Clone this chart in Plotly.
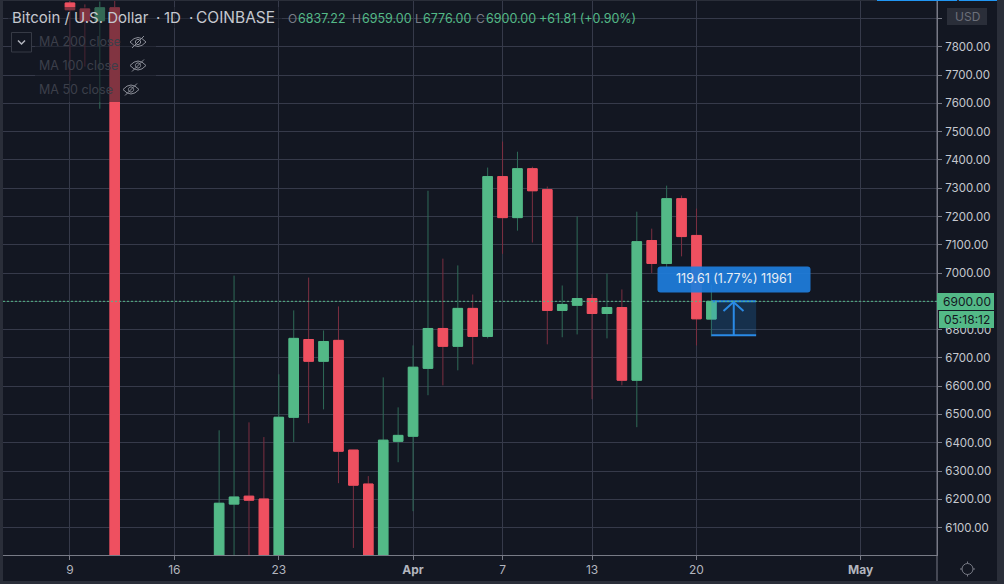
import plotly.graph_objects as go

# daily candles
dates = [
    "2020-03-09", "2020-03-10", "2020-03-11", "2020-03-12",
    "2020-03-19", "2020-03-20", "2020-03-21", "2020-03-22", "2020-03-23", "2020-03-24",
    "2020-03-25", "2020-03-26", "2020-03-27", "2020-03-28", "2020-03-29", "2020-03-30",
    "2020-03-31", "2020-04-01", "2020-04-02", "2020-04-03", "2020-04-04", "2020-04-05",
    "2020-04-06", "2020-04-07", "2020-04-08", "2020-04-09", "2020-04-10", "2020-04-11",
    "2020-04-12", "2020-04-13", "2020-04-14", "2020-04-15", "2020-04-16", "2020-04-17",
    "2020-04-18", "2020-04-19", "2020-04-20", "2020-04-21",
]
opens = [
    7955, 7934, 7892, 7938,
    5392, 6183, 6211, 6201, 5830, 6490,
    6765, 6688, 6762, 6374, 6254, 5880,
    6405, 6423, 6663, 6804, 6741, 6875,
    6776, 7341, 7196, 7369, 7295, 6868,
    6886, 6910, 6857, 6878, 6621, 7115,
    7034, 7263, 7133, 6837.22,
]
highs = [
    7975, 7950, 7960, 7975,
    6444, 6991, 6472, 6420, 6642, 6868,
    6984, 6797, 6882, 6374, 6282, 6631,
    6525, 6744, 7291, 7051, 7027, 6924,
    7373, 7465, 7429, 7376, 7306, 6956,
    7200, 6925, 6998, 6942, 7217, 7157,
    7309, 7274, 7228, 6959,
]
lows = [
    7680, 7730, 7581, 5000,
    5260, 5675, 5800, 5750, 5700, 6402,
    6469, 6518, 6257, 6028, 5860, 5860,
    6331, 6158, 6568, 6603, 6656, 6677,
    6769, 7068, 7150, 7108, 6748, 6773,
    6783, 6554, 6769, 6603, 6455, 7000,
    7018, 7059, 6744, 6776,
]
closes = [
    7931, 7892, 7938, 5000,
    6186, 6208, 6197, 5830, 6490, 6769,
    6688, 6758, 6370, 6250, 5880, 6409,
    6426, 6667, 6804, 6741, 6875, 6776,
    7341, 7196, 7369, 7291, 6868, 6889,
    6910, 6857, 6878, 6621, 7111, 7034,
    7263, 7129, 6838.19, 6900,
]

tick_dates = ["2020-03-09", "2020-03-16", "2020-03-23", "2020-04-01", "2020-04-07", "2020-04-13", "2020-04-20", "2020-05-01"]
tick_labels = ["9", "16", "23", "<b>Apr</b>", "7", "13", "20", "<b>May</b>"]
price_ticks = [6100, 6200, 6300, 6400, 6500, 6600, 6700, 6800, 6900, 7000, 7100, 7200, 7300, 7400, 7500, 7600, 7700, 7800, 7900]
# 6900 and 7900 sit under the price box and the USD box
price_labels = ["" if p in (6900, 7900) else "%.2f" % p for p in price_ticks]
ma_names = ["MA 200 close", "MA 100 close", "MA 50 close"]

last_price = 6900
measure_low = 6780.39

BG = "#131722"
FRAME = "#2a2e39"
GRID = "#363a4a"
UP = "#53b987"
DOWN = "#ef5060"
UP_WICK = "#2f6b58"
DOWN_WICK = "#7c2f40"
FONT = "Inter"

W, H = 1004, 584
LEFT, RIGHT, TOP, BOTTOM = 3, 937, 1, 555


def px(x):
    return (x - LEFT) / (RIGHT - LEFT)


def py(y):
    return 1 - (y - TOP) / (BOTTOM - TOP)


def box(x0, y0, x1, y1, color, line=None):
    return dict(type="rect", xref="paper", yref="paper", x0=px(x0), x1=px(x1), y0=py(y1), y1=py(y0),
                fillcolor=color, line=dict(width=1 if line else 0, color=line or color))


def icon(path, x, y, color, width=1):
    # path is in pixels around (x, y), y going up
    return dict(type="path", xref="paper", yref="paper", xsizemode="pixel", ysizemode="pixel",
                xanchor=px(x), yanchor=py(y), path=path, line=dict(color=color, width=width))


def label(text, x, y, color, size=12, anchor="left"):
    return dict(text=text, xref="paper", yref="paper", x=px(x), y=py(y), xanchor=anchor, yanchor="middle",
                showarrow=False, font=dict(family=FONT, size=size, color=color), borderpad=0, borderwidth=0)


def circle(r):
    k = r * 0.55
    return (f"M{-r},0 C{-r},{k} {-k},{r} 0,{r} C{k},{r} {r},{k} {r},0 "
            f"C{r},{-k} {k},{-r} 0,{-r} C{-k},{-r} {-r},{-k} {-r},0 Z")


fig = go.Figure()

# wicks, then the bodies on top so the bodies have no dark outline
fig.add_trace(go.Candlestick(
    x=dates, open=opens, high=highs, low=lows, close=closes, whiskerwidth=0,
    increasing=dict(line=dict(color=UP_WICK, width=1), fillcolor=UP),
    decreasing=dict(line=dict(color=DOWN_WICK, width=1), fillcolor=DOWN),
    showlegend=False, hoverinfo="skip",
))
fig.add_trace(go.Candlestick(
    x=dates, open=opens, close=closes,
    high=[max(o, c) for o, c in zip(opens, closes)],
    low=[min(o, c) for o, c in zip(opens, closes)],
    whiskerwidth=0,
    increasing=dict(line=dict(color=UP, width=1), fillcolor=UP),
    decreasing=dict(line=dict(color=DOWN, width=1), fillcolor=DOWN),
    showlegend=False, hoverinfo="skip",
))

eye = "M-8,0 Q0,9 8,0 Q0,-9 -8,0 Z " + circle(2.6) + " M-6,-6 L6,6"
sun = circle(5.5) + " M-7.5,0 L-5.5,0 M5.5,0 L7.5,0 M0,-7.5 L0,-5.5 M0,5.5 L0,7.5"

shapes = [
    # frame round the chart
    box(0, 0, 3, 584, FRAME),
    box(997, 0, 1004, 584, FRAME),
    box(0, 581, 1004, 584, FRAME),
    box(0, 0, 1004, 1, FRAME),
    box(877, 0, 957, 1, "#2196f3"),
    box(959, 0, 997, 1, "#2196f3"),
    dict(type="line", xref="paper", yref="paper", x0=1, x1=1, y0=py(581), y1=py(1), line=dict(color="#787b86", width=1)),
    # legend backings dim the candles under them
    box(8, 7, 282, 28, "rgba(19,23,34,0.5)"),
    box(35, 28, 156, 52, "rgba(19,23,34,0.5)"),
    box(35, 52, 156, 77, "rgba(19,23,34,0.5)"),
    box(35, 77, 148, 102, "rgba(19,23,34,0.5)"),
    # measure tool
    dict(type="rect", x0="2020-04-21", x1="2020-04-24", y0=measure_low, y1=last_price,
         fillcolor="rgba(33,150,243,0.2)", line=dict(width=0)),
    dict(type="line", x0="2020-04-21", x1="2020-04-24", y0=last_price, y1=last_price, line=dict(color="#2a8ae6", width=2)),
    dict(type="line", x0="2020-04-21", x1="2020-04-24", y0=measure_low, y1=measure_low, line=dict(color="#2a8ae6", width=2)),
    dict(type="line", x0="2020-04-22T12:00", x1="2020-04-22T12:00", y0=measure_low, y1=last_price, line=dict(color="#2a8ae6", width=2)),
    icon("M-10,-9 L0,0 L10,-9", 733.5, 302, "#2a8ae6", 2),
    # last price line
    dict(type="line", xref="paper", x0=0, x1=1, y0=last_price, y1=last_price, line=dict(color=UP, width=1, dash="2px,2px")),
    # tooltip of the measure tool
    dict(type="path", xref="paper", yref="paper", xsizemode="pixel", ysizemode="pixel",
         xanchor=px(657.5), yanchor=py(266.5),
         path="M3,0 L150,0 Q153,0 153,-3 L153,-23 Q153,-26 150,-26 L3,-26 Q0,-26 0,-23 L0,-3 Q0,0 3,0 Z",
         fillcolor="rgba(30,125,220,0.93)", line=dict(width=0)),
    # price axis boxes
    box(947, 8, 987, 25, FRAME),
    box(937, 293, 994, 310, UP),
    box(939, 311, 994, 328, UP),
    # button and icons
    dict(type="rect", xref="paper", yref="paper", x0=px(11.5), x1=px(31.5), y0=py(52), y1=py(32.5),
         line=dict(color="#363a45", width=1), fillcolor=BG),
    icon("M-3.5,1.5 L0,-2 L3.5,1.5", 21.5, 42, "#b2b5be", 1.5),
    icon(eye, 138, 42, "#8a8d97"),
    icon(eye, 138, 65.5, "#8a8d97"),
    icon(eye, 131, 89.5, "#8a8d97"),
    icon(sun, 967.5, 569, "#787b86"),
]

annotations = [
    label("Bitcoin / U.S. Dollar", 12, 17.5, "#c5c8cf", 15),
    label("·", 156, 17.5, "#c5c8cf", 15),
    label("1D", 164, 17.5, "#c5c8cf", 15),
    label("·", 189, 17.5, "#c5c8cf", 15),
    label("COINBASE", 196, 17.5, "#c5c8cf", 15.5),
    label("O", 288, 18.5, "#787b86", 12), label("6837.22", 298, 18.5, UP, 12.5),
    label("H", 352, 18.5, "#787b86", 12), label("6959.00", 361.5, 18.5, UP, 12.5),
    label("L", 415, 18.5, "#787b86", 12), label("6776.00", 423, 18.5, UP, 12.5),
    label("C", 476, 18.5, "#787b86", 12), label("6900.00", 486, 18.5, UP, 12.5),
    label("+61.81 (+0.90%)", 538.5, 18.5, UP, 12.5),
    label(ma_names[0], 39, 42, "#3c3f4a", 12.5),
    label(ma_names[1], 39, 65.5, "#3c3f4a", 12.5),
    label(ma_names[2], 39, 89.5, "#3c3f4a", 12.5),
    label("119.61 (1.77%) 11961", 734, 278.5, "#e8eef5", 12.5, "center"),
    label("USD", 967, 16.5, "#6c6f7a", 12, "center"),
    label("%.2f" % last_price, 967, 301.5, BG, 12, "center"),
    label("05:18:12", 967, 319.5, BG, 12, "center"),
]

fig.update_layout(
    width=W, height=H,
    margin=dict(l=LEFT, r=W - RIGHT, t=TOP, b=H - BOTTOM, pad=0),
    paper_bgcolor=BG, plot_bgcolor=BG,
    boxgap=0.36, boxgroupgap=0,
    font=dict(family=FONT, size=12, color="#b2b5be"),
    shapes=shapes, annotations=annotations,
    xaxis=dict(
        type="date", range=["2020-03-04T12:15", "2020-05-06T03:00"],
        rangeslider=dict(visible=False),
        tickvals=tick_dates, ticktext=tick_labels, tickangle=0,
        ticks="outside", ticklen=4, tickcolor="#787b86", tickfont=dict(size=12, color="#b2b5be"),
        showgrid=True, gridcolor=GRID, gridwidth=1, zeroline=False,
        showline=True, linecolor="#787b86", linewidth=1,
    ),
    yaxis=dict(
        side="right", range=[6003, 7962], tickvals=price_ticks, ticktext=price_labels,
        ticks="outside", ticklen=4, tickcolor="#787b86", tickfont=dict(size=11.5, color="#c5c8cf"),
        ticklabelstandoff=1,
        showgrid=True, gridcolor=GRID, gridwidth=1, zeroline=False,
        showline=True, linecolor="#787b86", linewidth=1,
    ),
)

# the page's default body margin would push the chart 8px off
fig.write_html("out.html", config={"displayModeBar": False}, post_script="document.body.style.margin='0';")
